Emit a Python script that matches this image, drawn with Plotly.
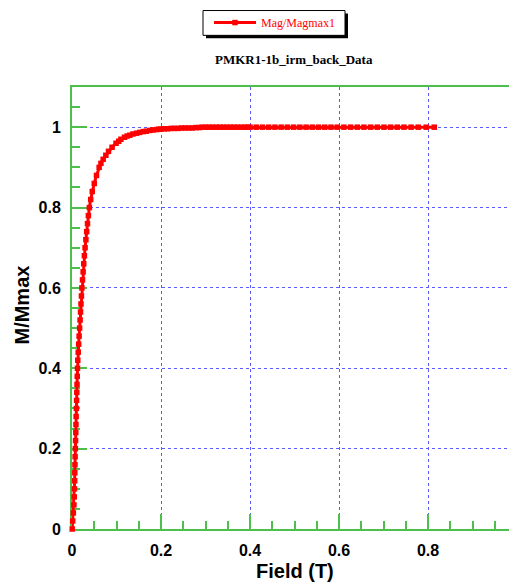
import plotly.graph_objects as go

# Field values (T) and normalised magnetisation
field_steep = [0.0005, 0.0015, 0.0030, 0.0043, 0.0050, 0.0055, 0.0060, 0.0063, 0.0066, 0.0070,
               0.0075, 0.0080, 0.0085, 0.0089, 0.0093, 0.0098, 0.0103, 0.0108, 0.0113, 0.0118,
               0.0123, 0.0130, 0.0140, 0.0150, 0.0160, 0.0171, 0.0182, 0.0192, 0.0202, 0.0212,
               0.0222, 0.0236, 0.0250, 0.0264, 0.0278, 0.0294, 0.0312, 0.0330, 0.0348, 0.0368,
               0.0390, 0.0420, 0.0455, 0.0500, 0.0550, 0.0610, 0.0650, 0.0700, 0.0760, 0.0820,
               0.0900, 0.0990, 0.1050, 0.1100, 0.1180, 0.1240, 0.1300, 0.1370, 0.1450, 0.1520,
               0.1600, 0.1670, 0.1750, 0.1820, 0.1900, 0.1950, 0.2000, 0.2070,
               0.215, 0.223, 0.230, 0.238, 0.246, 0.254, 0.262, 0.270, 0.278, 0.286,
               0.292, 0.300, 0.308, 0.316, 0.324, 0.332, 0.340, 0.348, 0.356, 0.364,
               0.372, 0.380, 0.388, 0.395]
mag_steep = [0.000, 0.020, 0.040, 0.060, 0.080, 0.100, 0.120, 0.140, 0.160, 0.180,
             0.200, 0.220, 0.240, 0.260, 0.280, 0.300, 0.320, 0.340, 0.360, 0.380,
             0.400, 0.420, 0.440, 0.460, 0.480, 0.500, 0.520, 0.540, 0.560, 0.580,
             0.600, 0.620, 0.640, 0.660, 0.680, 0.700, 0.720, 0.740, 0.760, 0.780,
             0.800, 0.820, 0.840, 0.860, 0.880, 0.900, 0.910, 0.920, 0.930, 0.940,
             0.950, 0.960, 0.965, 0.970, 0.975, 0.978, 0.980, 0.983, 0.985, 0.987,
             0.989, 0.990, 0.992, 0.993, 0.994, 0.995, 0.995, 0.996,
             0.996, 0.997, 0.997, 0.997, 0.998, 0.998, 0.998, 0.998, 0.999, 0.999,
             1.000, 1.000, 1.000, 1.000, 1.000, 1.000, 1.000, 1.000, 1.000, 1.000,
             1.000, 1.000, 1.000, 1.000]
field_plateau = [0.400, 0.414, 0.428, 0.442, 0.456, 0.470, 0.484, 0.498, 0.512, 0.526,
                 0.540, 0.554, 0.568, 0.582, 0.596, 0.611, 0.626, 0.641, 0.656, 0.671,
                 0.686, 0.701, 0.716, 0.731, 0.746, 0.762, 0.778, 0.796, 0.814]
mag_plateau = [1.000, 1.000, 1.000, 1.000, 1.000, 1.000, 1.000, 1.000, 1.000, 1.000,
               1.000, 1.000, 1.000, 1.000, 1.000, 1.000, 1.000, 1.000, 1.000, 1.000,
               1.000, 1.000, 1.000, 1.000, 1.000, 1.000, 1.000, 1.000, 1.000]

field = field_steep + field_plateau
mag = mag_steep + mag_plateau

series_name = "Mag/Magmax1"
chart_title = "PMKR1-1b_irm_back_Data"
x_title = "Field (T)"
y_title = "M/Mmax"

GREEN = "#4cbf4c"
GRID = "rgb(90,90,255)"

fig = go.Figure()
fig.add_trace(go.Scatter(
    x=field, y=mag, name=series_name, mode="lines+markers",
    line=dict(color="#ff0000", width=3),
    marker=dict(symbol="square", size=5.5, color="#ff0000"),
    cliponaxis=False,
))

axis_common = dict(
    showline=True, linecolor=GREEN, linewidth=2,
    ticks="inside", ticklen=15, tickwidth=1.5, tickcolor=GREEN,
    showgrid=True, gridcolor=GRID, griddash="dot", gridwidth=1,
    zeroline=False, layer="below traces", automargin=False,
    tickfont=dict(family="Liberation Sans, Arial", size=16, color="black", weight="bold"),
    ticklabelstandoff=6, ticklabeloverflow="allow",
)

fig.update_xaxes(range=[0, 1], dtick=0.2, tick0=0, mirror=True,
                 minor=dict(dtick=0.05, ticks="inside", ticklen=8, tickcolor=GREEN, tickwidth=1.5, showgrid=False),
                 **axis_common)
fig.update_yaxes(range=[0, 1.1], dtick=0.2, tick0=0,
                 minor=dict(dtick=0.05, ticks="inside", ticklen=8, tickcolor=GREEN, tickwidth=1.5, showgrid=False),
                 **axis_common)

# page body adds an 8px offset; helpers work in window pixels
def px_x(p):
    return (p - 72) / 445.0

def px_y(p):
    return (529 - p) / 445.0

shapes = [
    dict(type="rect", xref="paper", yref="paper",
         x0=px_x(206), x1=px_x(348), y0=px_y(35), y1=px_y(10),
         fillcolor="black", line=dict(width=0)),
    dict(type="rect", xref="paper", yref="paper",
         x0=px_x(203), x1=px_x(345), y0=px_y(32), y1=px_y(7),
         fillcolor="white", line=dict(color="black", width=1)),
]

annotations = [
    dict(text=chart_title, xref="paper", yref="paper", x=px_x(294), y=px_y(56),
         xanchor="center", yanchor="middle", showarrow=False,
         font=dict(family="Liberation Serif, Times New Roman", size=13, color="black", weight="bold")),
    dict(text=x_title, xref="paper", yref="paper", x=px_x(295), y=px_y(571),
         xanchor="center", yanchor="middle", showarrow=False,
         font=dict(family="Liberation Sans, Arial", size=20, color="black", weight="bold")),
    dict(text=y_title, xref="paper", yref="paper", x=px_x(22), y=px_y(304),
         xanchor="center", yanchor="middle", showarrow=False, textangle=-90,
         font=dict(family="Liberation Sans, Arial", size=20, color="black", weight="bold")),
]

fig.update_layout(
    width=509, height=576,
    margin=dict(l=64, r=0, t=76, b=55),
    paper_bgcolor="white", plot_bgcolor="white",
    showlegend=True,
    legend=dict(x=px_x(209), y=px_y(4.5), xanchor="left", yanchor="top",
                xref="paper", yref="paper", itemwidth=42,
                bgcolor="rgba(0,0,0,0)", borderwidth=0,
                font=dict(family="Liberation Serif, Times New Roman", size=12, color="#ff0000")),
    shapes=shapes,
    annotations=annotations,
)

fig.write_html("out.html")
